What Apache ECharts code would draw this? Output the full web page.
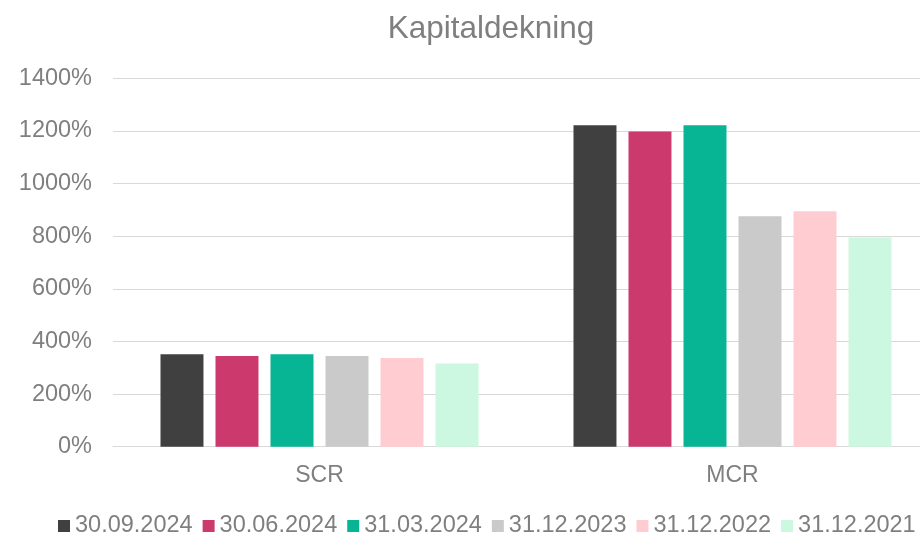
<!doctype html>
<html>
<head>
<meta charset="UTF-8">
<title>Kapitaldekning</title>
<script src="https://cdn.jsdelivr.net/npm/echarts@6/dist/echarts.min.js"></script>
<style>
html,body{margin:0;padding:0;background:#fff;}
#chart{width:920px;height:536px;}
</style>
</head>
<body>
<div id="chart"></div>
<script type="text/javascript">
// kategorier og serier
var categories = ['SCR', 'MCR'];
var seriesNames = ['30.09.2024', '30.06.2024', '31.03.2024', '31.12.2023', '31.12.2022', '31.12.2021'];
var val_300924 = [351, 1222];
var val_300624 = [345, 1198];
var val_310324 = [351, 1222];
var val_311223 = [345, 876];
var val_311222 = [337, 895];
var val_311221 = [316, 795];
var colors = ['#404040', '#CC396D', '#07B493', '#C9CAC9', '#FFCCD2', '#CCF7E1'];

var allValues = [val_300924, val_300624, val_310324, val_311223, val_311222, val_311221];
var series = [];
for (var i = 0; i < seriesNames.length; i++) {
	series.push({
		name: seriesNames[i],
		type: 'bar',
		data: allValues[i],
		barGap: '28%',
		barCategoryGap: '23%',
		itemStyle: { color: colors[i] }
	});
}

var chart = echarts.init(document.getElementById('chart'));
var option = {
	animation: false,
	title: {
		text: 'Kapitaldekning',
		left: 486,
		textAlign: 'center',
		top: 8,
		textStyle: { color: '#7f7f7f', fontSize: 31.5, fontWeight: 'normal', fontFamily: 'Liberation Sans' }
	},
	legend: {
		data: seriesNames,
		top: 514,
		left: 58,
		width: 900,
		padding: 0,
		icon: 'rect',
		itemWidth: 12,
		itemHeight: 12,
		itemGap: 10,
		textStyle: { color: '#7f7f7f', fontSize: 23.5, lineHeight: 24, fontFamily: 'Liberation Sans' }
	},
	grid: { left: 113, top: 78.3, width: 826, height: 368.4, outerBoundsMode: 'none' },
	xAxis: {
		type: 'category',
		data: categories,
		axisLine: { lineStyle: { color: '#d9d9d9', width: 1 } },
		axisTick: { show: false },
		axisLabel: { color: '#7f7f7f', fontSize: 23, fontFamily: 'Liberation Sans', margin: 17 }
	},
	yAxis: {
		type: 'value',
		min: 0,
		max: 1400,
		interval: 200,
		axisLine: { show: false },
		axisTick: { show: false },
		splitLine: { lineStyle: { color: '#d9d9d9', width: 1 } },
		axisLabel: {
			color: '#7f7f7f', fontSize: 23.5, fontFamily: 'Liberation Sans', margin: 21,
			formatter: function (v) { return v + '%'; }
		}
	},
	series: series
};
chart.setOption(option);
</script>
</body>
</html>
